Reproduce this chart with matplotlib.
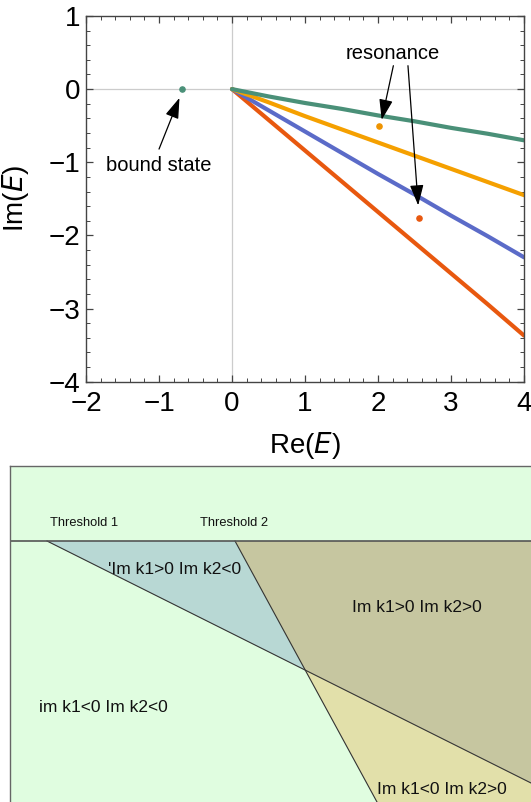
import numpy as np
import matplotlib.pyplot as plt
from matplotlib.patches import Polygon
from matplotlib.ticker import MultipleLocator

plt.rcParams['font.family'] = ['Liberation Sans', 'DejaVu Sans']
plt.rcParams['mathtext.fontset'] = 'custom'

# --- top panel: complex energy trajectories ---
re_e = [0, 0.5, 1, 1.5, 2, 2.5, 3, 3.5, 4]
im_green = [0, -0.10, -0.19, -0.27, -0.36, -0.44, -0.53, -0.61, -0.70]
im_orange = [0, -0.18, -0.37, -0.55, -0.73, -0.91, -1.09, -1.27, -1.45]
im_blue = [0, -0.29, -0.58, -0.87, -1.16, -1.44, -1.73, -2.01, -2.30]
im_red = [0, -0.42, -0.84, -1.26, -1.68, -2.10, -2.52, -2.94, -3.37]

bound_state = (-0.69, 0.0)
resonance_orange = (2.02, -0.50)
resonance_red = (2.56, -1.76)

GREEN = '#4a9078'
ORANGE = '#f5a000'
BLUE = '#5b6bc8'
RED = '#e8580f'

# --- bottom panel: regions (diagram units, y grows downward) ---
threshold_y = 75
thresholds_x = [37, 225]
crossing = (295, 204)
box_w, box_h = 521, 336
line1_end = (521, 317)
line2_end = (367, 336)

region_ul = [(thresholds_x[0], threshold_y), (thresholds_x[1], threshold_y), crossing]
region_ur = [(thresholds_x[1], threshold_y), (box_w, threshold_y), line1_end, crossing]
region_lr = [crossing, line1_end, (box_w, box_h), line2_end]

region_labels = ["'Im k1>0 Im k2<0", "Im k1>0 Im k2>0", "im k1<0 Im k2<0", "Im k1<0 Im k2>0"]
region_label_pos = [(98, 104), (342, 142), (29, 242), (367, 323)]
threshold_labels = ['Threshold 1', 'Threshold 2']
threshold_label_pos = [(40, 57), (190, 57)]

fig = plt.figure(figsize=(5.31, 8.02), dpi=100)

ax1 = fig.add_axes([0.1620, 0.5241, 0.8249, 0.4560])
ax1.axhline(0, color='#cccccc', lw=0.9, zorder=0)
ax1.axvline(0, color='#cccccc', lw=0.9, zorder=0)
LW = 3.0
ax1.plot(re_e, im_red, color=RED, lw=LW, solid_capstyle='round')
ax1.plot(re_e, im_blue, color=BLUE, lw=LW, solid_capstyle='round')
ax1.plot(re_e, im_orange, color=ORANGE, lw=LW, solid_capstyle='round')
ax1.plot(re_e, im_green, color=GREEN, lw=LW, solid_capstyle='round')
ax1.scatter([bound_state[0]], [bound_state[1]], s=14, color=GREEN, zorder=5)
ax1.scatter([resonance_orange[0]], [resonance_orange[1]], s=14, color='#ee9300', zorder=5)
ax1.scatter([resonance_red[0]], [resonance_red[1]], s=14, color=RED, zorder=5)

arrow = dict(arrowstyle='-|>,head_length=0.9,head_width=0.3', color='black',
             lw=0.9, mutation_scale=14, shrinkA=0, shrinkB=0)
ax1.annotate('', xy=(-0.72, -0.12), xytext=(-1.0, -0.82), arrowprops=arrow)
ax1.text(-1.0, -1.05, 'bound state', fontsize=14.5, ha='center', va='center')
ax1.annotate('', xy=(2.05, -0.42), xytext=(2.21, 0.32), arrowprops=arrow)
ax1.annotate('', xy=(2.55, -1.59), xytext=(2.41, 0.32), arrowprops=arrow)
ax1.text(2.20, 0.48, 'resonance', fontsize=14.5, ha='center', va='center')

ax1.set_xlim(-2, 4)
ax1.set_ylim(-4, 1)
ax1.xaxis.set_major_locator(MultipleLocator(1))
ax1.yaxis.set_major_locator(MultipleLocator(1))
ax1.xaxis.set_minor_locator(MultipleLocator(0.2))
ax1.yaxis.set_minor_locator(MultipleLocator(0.2))
ax1.tick_params(which='both', direction='in', top=True, right=True, color='#444444')
ax1.tick_params(which='major', length=5, width=0.9, labelsize=20)
ax1.tick_params(axis='x', which='major', pad=7)
ax1.tick_params(axis='y', which='major', pad=4)
ax1.tick_params(which='minor', length=3, width=0.7)
for s in ax1.spines.values():
    s.set_color('#444444')
    s.set_linewidth(1.0)
ax1.set_xlabel('Re($\\mathit{E}$)', fontsize=20)
ax1.set_ylabel('Im($\\mathit{E}$)', fontsize=20)
ax1.yaxis.set_label_coords(-0.125, 0.5)
ax1.xaxis.set_label_coords(0.5, -0.133)

# --- bottom diagram ---
ax2 = fig.add_axes([10 / 531, 0, 521 / 531, 336 / 802])
ax2.set_facecolor('#e0fde0')
ax2.add_patch(Polygon(region_ul, closed=True, fc='#b8d8d4', ec='none'))
ax2.add_patch(Polygon(region_ur, closed=True, fc='#c6c6a0', ec='none'))
ax2.add_patch(Polygon(region_lr, closed=True, fc='#e2e0aa', ec='none'))
ax2.plot([thresholds_x[0], line1_end[0]], [threshold_y, line1_end[1]], color='#333333', lw=0.8)
ax2.plot([thresholds_x[1], line2_end[0]], [threshold_y, line2_end[1]], color='#333333', lw=0.8)
ax2.axhline(threshold_y, color='#555555', lw=1.2)
for lab, (x, y) in zip(threshold_labels, threshold_label_pos):
    ax2.text(x, y, lab, fontsize=9.3, ha='left', va='center', color='#111111')
for lab, (x, y) in zip(region_labels, region_label_pos):
    ax2.text(x, y, lab, fontsize=12.5, ha='left', va='center', color='#111111')
ax2.set_xlim(0, box_w)
ax2.set_ylim(box_h, 0)
ax2.set_xticks([])
ax2.set_yticks([])
for side in ['right', 'bottom']:
    ax2.spines[side].set_visible(False)
for side in ['left', 'top']:
    ax2.spines[side].set_color('#666666')
    ax2.spines[side].set_linewidth(1.0)

plt.savefig('out.png', dpi=100)
